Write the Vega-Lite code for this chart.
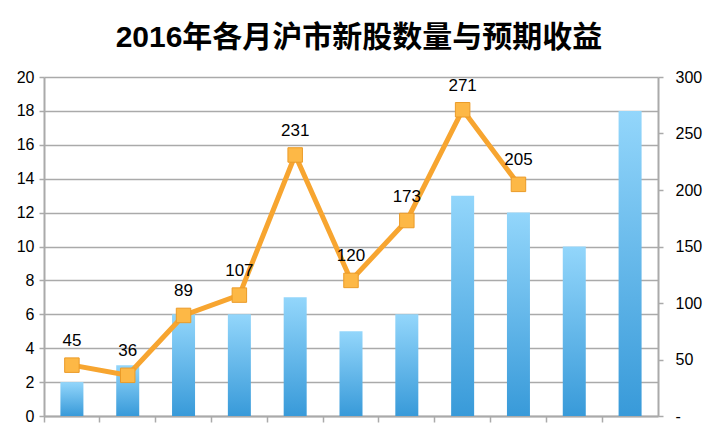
{
  "$schema": "https://vega.github.io/schema/vega-lite/v6.json",
  "width": 614,
  "height": 339,
  "autosize": {"type": "none"},
  "padding": {"left": 44, "top": 77, "right": 62, "bottom": 8},
  "background": "white",
  "title": {
    "text": "2016年各月沪市新股数量与预期收益",
    "font": "Liberation Sans, Noto Sans CJK SC",
    "fontSize": 30,
    "fontWeight": "bold",
    "color": "black",
    "anchor": "middle",
    "dx": 8,
    "offset": 16
  },
  "data": {
    "values": [
      {"month": 1, "count": 2, "ret": 45},
      {"month": 2, "count": 3, "ret": 36},
      {"month": 3, "count": 6, "ret": 89},
      {"month": 4, "count": 6, "ret": 107},
      {"month": 5, "count": 7, "ret": 231},
      {"month": 6, "count": 5, "ret": 120},
      {"month": 7, "count": 6, "ret": 173},
      {"month": 8, "count": 13, "ret": 271},
      {"month": 9, "count": 12, "ret": 205},
      {"month": 10, "count": 10, "ret": null},
      {"month": 11, "count": 18, "ret": null}
    ]
  },
  "encoding": {
    "x": {
      "field": "month",
      "type": "ordinal",
      "scale": {"paddingInner": 0, "paddingOuter": 0},
      "axis": {
        "title": null,
        "labels": false,
        "bandPosition": 0,
        "domainColor": "#aaaaaa",
        "domainWidth": 2,
        "tickColor": "#aaaaaa",
        "tickWidth": 1.5,
        "tickSize": 6,
        "grid": false
      }
    }
  },
  "layer": [
    {
      "mark": {
        "type": "bar",
        "size": 23,
        "color": {
          "gradient": "linear",
          "x1": 0, "y1": 0, "x2": 0, "y2": 1,
          "stops": [
            {"offset": 0, "color": "#93d6fb"},
            {"offset": 1, "color": "#389ad9"}
          ]
        }
      },
      "encoding": {
        "y": {
          "field": "count",
          "type": "quantitative",
          "scale": {"domain": [0, 20], "nice": false},
          "axis": {
            "title": null,
            "orient": "left",
            "values": [0, 2, 4, 6, 8, 10, 12, 14, 16, 18, 20],
            "grid": true,
            "gridColor": "#aaaaaa",
            "gridWidth": 1.5,
            "domainColor": "#aaaaaa",
            "domainWidth": 2,
            "tickColor": "#aaaaaa",
            "tickWidth": 1.5,
            "tickSize": 5,
            "labelPadding": 5,
            "labelFont": "Liberation Sans",
            "labelFontSize": 16,
            "labelColor": "black"
          }
        }
      }
    },
    {
      "encoding": {
        "y": {
          "field": "ret",
          "type": "quantitative",
          "scale": {"domain": [0, 300], "nice": false},
          "axis": {
            "title": null,
            "orient": "right",
            "values": [0, 50, 100, 150, 200, 250, 300],
            "labelExpr": "datum.value == 0 ? '-' : datum.label",
            "grid": false,
            "domainColor": "#aaaaaa",
            "domainWidth": 2,
            "tickColor": "#aaaaaa",
            "tickWidth": 1.5,
            "tickSize": 5,
            "labelPadding": 12,
            "labelFont": "Liberation Sans",
            "labelFontSize": 16,
            "labelColor": "black"
          }
        }
      },
      "layer": [
        {
          "mark": {"type": "line", "color": "#f7a530", "strokeWidth": 5, "strokeJoin": "miter"},
          "encoding": {}
        },
        {
          "mark": {
            "type": "point",
            "shape": "square",
            "size": 210,
            "filled": true,
            "opacity": 1,
            "fill": "#fdb846",
            "stroke": "#eb9b28",
            "strokeWidth": 1
          },
          "encoding": {}
        },
        {
          "mark": {
            "type": "text",
            "dy": -24,
            "font": "Liberation Sans",
            "fontSize": 17,
            "color": "black"
          },
          "encoding": {"text": {"field": "ret", "type": "quantitative"}}
        }
      ]
    }
  ],
  "resolve": {"scale": {"y": "independent"}},
  "config": {"view": {"stroke": null}}
}
